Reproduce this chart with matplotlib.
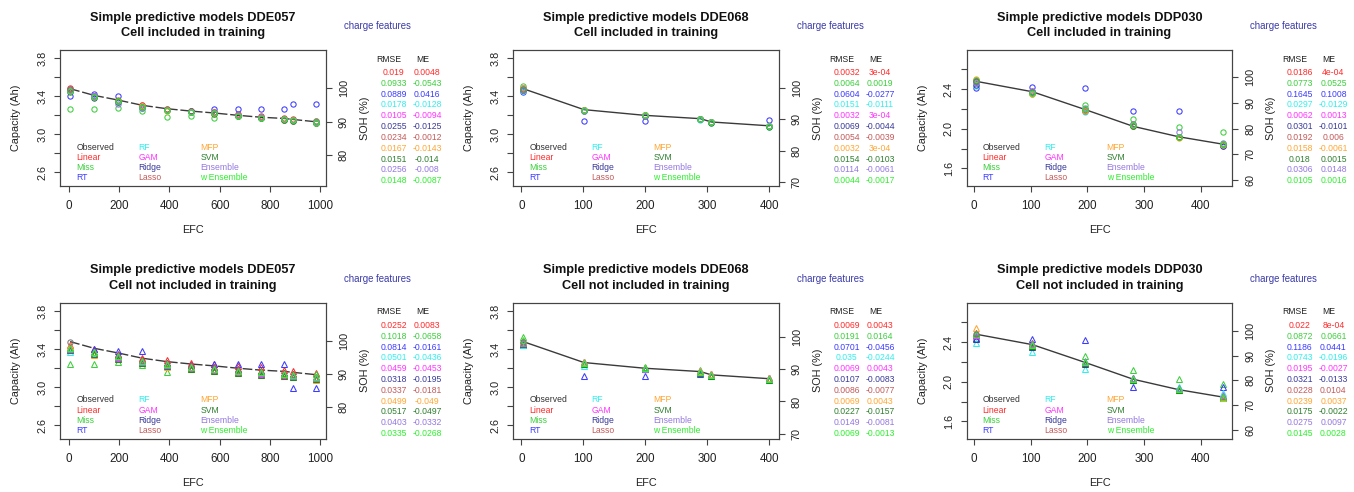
import matplotlib.pyplot as plt
import numpy as np

plt.rcParams['font.family'] = ['Liberation Sans', 'DejaVu Sans']

W, H = 1354, 492

models = ["Linear", "Miss", "RT", "RF", "GAM", "Ridge", "Lasso",
          "MFP", "SVM", "Ensemble", "w Ensemble"]
colors = ["#ff2a2a", "#3ccf3c", "#3b3bff", "#33eeee", "#ff33ff", "#3a3a9a",
          "#c45a5a", "#ffa634", "#2f7f2f", "#9478e0", "#2ef02e"]
obs_color = "#333333"

# DDE057
efc_dde057 = [5, 100, 197, 293, 389, 484, 577, 673, 764, 857, 891, 984]
cap_dde057 = [3.48, 3.41, 3.36, 3.305, 3.27, 3.245, 3.225, 3.20, 3.18, 3.167, 3.157, 3.132]
pred_dde057_in = [
    [3.49, 3.40, 3.35, 3.31, 3.27, 3.25, 3.23, 3.21, 3.19, 3.17, 3.16, 3.14],
    [3.27, 3.27, 3.28, 3.25, 3.18, 3.19, 3.17, 3.19, 3.17, 3.15, 3.15, 3.14],
    [3.40, 3.42, 3.40, 3.28, 3.26, 3.25, 3.27, 3.27, 3.27, 3.27, 3.32, 3.32],
    [3.46, 3.39, 3.34, 3.29, 3.26, 3.24, 3.22, 3.19, 3.17, 3.15, 3.14, 3.12],
    [3.47, 3.40, 3.35, 3.29, 3.26, 3.24, 3.22, 3.19, 3.17, 3.16, 3.15, 3.12],
    [3.46, 3.38, 3.34, 3.29, 3.26, 3.25, 3.22, 3.19, 3.17, 3.15, 3.14, 3.12],
    [3.48, 3.40, 3.36, 3.31, 3.27, 3.25, 3.23, 3.20, 3.18, 3.16, 3.15, 3.13],
    [3.46, 3.39, 3.35, 3.30, 3.25, 3.23, 3.21, 3.19, 3.17, 3.15, 3.14, 3.12],
    [3.45, 3.39, 3.35, 3.29, 3.26, 3.24, 3.21, 3.19, 3.17, 3.15, 3.14, 3.12],
    [3.46, 3.40, 3.32, 3.28, 3.26, 3.24, 3.22, 3.20, 3.18, 3.16, 3.15, 3.13],
    [3.46, 3.39, 3.35, 3.29, 3.26, 3.24, 3.22, 3.19, 3.17, 3.16, 3.15, 3.12],
]
pred_dde057_out = [
    [3.44, 3.40, 3.35, 3.31, 3.29, 3.26, 3.24, 3.22, 3.21, 3.18, 3.17, 3.15],
    [3.245, 3.245, 3.265, 3.23, 3.16, 3.19, 3.185, 3.18, 3.17, 3.15, 3.14, 3.14],
    [3.40, 3.40, 3.385, 3.385, 3.25, 3.23, 3.24, 3.245, 3.245, 3.245, 2.995, 2.995],
    [3.37, 3.36, 3.31, 3.26, 3.22, 3.21, 3.19, 3.16, 3.15, 3.12, 3.11, 3.09],
    [3.39, 3.35, 3.31, 3.26, 3.22, 3.20, 3.18, 3.16, 3.14, 3.13, 3.12, 3.09],
    [3.40, 3.37, 3.34, 3.29, 3.25, 3.23, 3.21, 3.19, 3.17, 3.15, 3.14, 3.11],
    [3.41, 3.37, 3.34, 3.29, 3.26, 3.23, 3.21, 3.19, 3.17, 3.15, 3.14, 3.11],
    [3.43, 3.34, 3.30, 3.25, 3.21, 3.19, 3.17, 3.15, 3.13, 3.12, 3.11, 3.08],
    [3.39, 3.35, 3.30, 3.25, 3.22, 3.19, 3.17, 3.15, 3.13, 3.12, 3.11, 3.09],
    [3.40, 3.37, 3.32, 3.27, 3.23, 3.21, 3.19, 3.17, 3.15, 3.14, 3.12, 3.10],
    [3.41, 3.37, 3.33, 3.28, 3.24, 3.21, 3.19, 3.17, 3.16, 3.14, 3.13, 3.11],
]

# DDE068
efc_dde068 = [3, 101, 199, 289, 307, 400]
cap_dde068 = [3.48, 3.26, 3.20, 3.165, 3.13, 3.09]
pred_dde068_in = [
    [3.49, 3.26, 3.20, 3.165, 3.125, 3.09],
    [3.51, 3.26, 3.20, 3.16, 3.125, 3.09],
    [3.45, 3.145, 3.14, 3.16, 3.13, 3.15],
    [3.46, 3.25, 3.19, 3.155, 3.12, 3.08],
    [3.49, 3.26, 3.20, 3.165, 3.125, 3.09],
    [3.47, 3.255, 3.20, 3.16, 3.125, 3.085],
    [3.47, 3.26, 3.195, 3.16, 3.125, 3.085],
    [3.49, 3.26, 3.20, 3.165, 3.125, 3.09],
    [3.47, 3.25, 3.19, 3.16, 3.115, 3.08],
    [3.47, 3.25, 3.19, 3.16, 3.125, 3.09],
    [3.48, 3.26, 3.20, 3.165, 3.125, 3.085],
]
pred_dde068_out = [
    [3.49, 3.265, 3.205, 3.17, 3.135, 3.095],
    [3.53, 3.27, 3.21, 3.18, 3.14, 3.10],
    [3.44, 3.12, 3.12, 3.14, 3.12, 3.10],
    [3.44, 3.22, 3.19, 3.15, 3.12, 3.08],
    [3.49, 3.265, 3.205, 3.17, 3.135, 3.095],
    [3.46, 3.255, 3.20, 3.16, 3.125, 3.085],
    [3.465, 3.255, 3.195, 3.16, 3.125, 3.085],
    [3.49, 3.265, 3.205, 3.17, 3.135, 3.095],
    [3.46, 3.24, 3.19, 3.15, 3.115, 3.08],
    [3.47, 3.25, 3.19, 3.16, 3.13, 3.09],
    [3.50, 3.26, 3.20, 3.16, 3.125, 3.085],
]

# DDP030
efc_ddp030 = [4, 103, 196, 281, 361, 439]
cap_ddp030 = [2.48, 2.375, 2.195, 2.025, 1.92, 1.845]
pred_ddp030_in = [
    [2.48, 2.37, 2.19, 2.04, 1.92, 1.84],
    [2.47, 2.35, 2.24, 2.10, 2.015, 1.965],
    [2.41, 2.42, 2.41, 2.18, 2.18, 1.83],
    [2.43, 2.36, 2.17, 2.03, 1.92, 1.84],
    [2.48, 2.37, 2.20, 2.03, 1.92, 1.85],
    [2.44, 2.36, 2.18, 2.03, 1.92, 1.83],
    [2.49, 2.38, 2.19, 2.05, 1.92, 1.85],
    [2.50, 2.35, 2.18, 2.03, 1.91, 1.84],
    [2.48, 2.37, 2.20, 2.03, 1.92, 1.85],
    [2.46, 2.38, 2.21, 2.05, 1.97, 1.86],
    [2.49, 2.36, 2.20, 2.04, 1.92, 1.85],
]
pred_ddp030_out = [
    [2.47, 2.37, 2.19, 2.03, 1.93, 1.85],
    [2.49, 2.39, 2.26, 2.115, 2.03, 1.98],
    [2.44, 2.43, 2.42, 1.95, 1.94, 1.95],
    [2.39, 2.30, 2.13, 2.04, 1.95, 1.89],
    [2.46, 2.36, 2.19, 2.02, 1.92, 1.85],
    [2.43, 2.35, 2.18, 2.02, 1.92, 1.84],
    [2.49, 2.39, 2.20, 2.04, 1.93, 1.86],
    [2.54, 2.36, 2.19, 2.02, 1.92, 1.84],
    [2.47, 2.36, 2.19, 2.02, 1.92, 1.85],
    [2.47, 2.38, 2.21, 2.04, 1.94, 1.87],
    [2.48, 2.37, 2.20, 2.03, 1.93, 1.85],
]

# error tables (RMSE, ME) per model
rmse_dde057_in = ["0.019", "0.0933", "0.0889", "0.0178", "0.0105", "0.0255", "0.0234", "0.0167", "0.0151", "0.0256", "0.0148"]
me_dde057_in = ["0.0048", "-0.0543", "0.0416", "-0.0128", "-0.0094", "-0.0125", "-0.0012", "-0.0143", "-0.014", "-0.008", "-0.0087"]
rmse_dde068_in = ["0.0032", "0.0064", "0.0604", "0.0151", "0.0032", "0.0069", "0.0054", "0.0032", "0.0154", "0.0114", "0.0044"]
me_dde068_in = ["3e-04", "0.0019", "-0.0277", "-0.0111", "3e-04", "-0.0044", "-0.0039", "3e-04", "-0.0103", "-0.0061", "-0.0017"]
rmse_ddp030_in = ["0.0186", "0.0773", "0.1645", "0.0297", "0.0062", "0.0301", "0.0192", "0.0158", "0.018", "0.0306", "0.0105"]
me_ddp030_in = ["4e-04", "0.0525", "0.1008", "-0.0129", "0.0013", "-0.0101", "0.006", "-0.0061", "0.0015", "0.0148", "0.0016"]
rmse_dde057_out = ["0.0252", "0.1018", "0.0814", "0.0501", "0.0459", "0.0318", "0.0337", "0.0499", "0.0517", "0.0403", "0.0335"]
me_dde057_out = ["0.0083", "-0.0658", "-0.0161", "-0.0436", "-0.0453", "-0.0195", "-0.0181", "-0.049", "-0.0497", "-0.0332", "-0.0268"]
rmse_dde068_out = ["0.0069", "0.0191", "0.0701", "0.035", "0.0069", "0.0107", "0.0086", "0.0069", "0.0227", "0.0149", "0.0069"]
me_dde068_out = ["0.0043", "0.0164", "-0.0456", "-0.0244", "0.0043", "-0.0083", "-0.0077", "0.0043", "-0.0157", "-0.0081", "-0.0013"]
rmse_ddp030_out = ["0.022", "0.0872", "0.1186", "0.0743", "0.0195", "0.0321", "0.0228", "0.0239", "0.0175", "0.0275", "0.0145"]
me_ddp030_out = ["8e-04", "0.0661", "0.0441", "-0.0196", "-0.0027", "-0.0133", "0.0104", "0.0037", "-0.0022", "0.0097", "0.0028"]

cells = ["DDE057", "DDE068", "DDP030"]
subtitles = ["Cell included in training", "Cell not included in training"]

panels = [
    (efc_dde057, cap_dde057, pred_dde057_in, rmse_dde057_in, me_dde057_in),
    (efc_dde068, cap_dde068, pred_dde068_in, rmse_dde068_in, me_dde068_in),
    (efc_ddp030, cap_ddp030, pred_ddp030_in, rmse_ddp030_in, me_ddp030_in),
    (efc_dde057, cap_dde057, pred_dde057_out, rmse_dde057_out, me_dde057_out),
    (efc_dde068, cap_dde068, pred_dde068_out, rmse_dde068_out, me_dde068_out),
    (efc_ddp030, cap_ddp030, pred_ddp030_out, rmse_ddp030_out, me_ddp030_out),
]

# axis settings per cell
xlims = [(-34, 1023), (-13, 416), (-13, 456)]
xticks = [np.arange(0, 1001, 200), np.arange(0, 401, 100), np.arange(0, 401, 100)]
ylims = [(2.459, 3.887), (2.459, 3.887), (1.424, 2.797)]
yticks = [np.arange(2.6, 3.81, 0.2), np.arange(2.6, 3.81, 0.2), np.arange(1.6, 2.61, 0.2)]
ylabels_shown = [["2.6", "", "3.0", "", "3.4", "", "3.8"],
                 ["2.6", "", "3.0", "", "3.4", "", "3.8"],
                 ["1.6", "", "2.0", "", "2.4", ""]]
soh_lims = [(70.7, 111.5), (68.7, 112.3), (57.8, 110.6),
            (70.2, 111.6), (68.4, 110.7), (56.4, 111.3)]
soh_ticks = [[80, 90, 100], [70, 80, 90, 100], [60, 70, 80, 90, 100]]

box_left = [60.3, 513.3, 966.7]
box_top = [50.0, 302.9]
box_w, box_h = 265.7, 135.8

fig = plt.figure(figsize=(W / 100, H / 100), dpi=100)
fs_base = 7.8
fs_tick = 8.4
fs_small = 6.2
spine_c = "#444444"
text_c = "#222222"


def ftext(x, y, s, **kw):
    fig.text(x / W, 1 - y / H, s, **kw)


for idx, (efc, cap, preds, rmse, me) in enumerate(panels):
    row, col = divmod(idx, 3)
    l, t = box_left[col], box_top[row]
    r, b = l + box_w, t + box_h
    ax = fig.add_axes([l / W, 1 - b / H, box_w / W, box_h / H])
    ax2 = ax.twinx()

    mk = 'o' if row == 0 else '^'
    ls = (0, (7, 2)) if col == 0 else '-'
    ax.plot(efc, cap, color="#3a3a3a", lw=1.0, ls=ls, zorder=2)
    for name, c, vals in zip(models, colors, preds):
        ax.plot(efc, vals, ls='none', marker=mk, ms=3.8, mfc='none',
                mec=c, mew=0.75, zorder=3)
    ax.plot(efc[:1], cap[:1], ls='none', marker='o', ms=3.8, mfc='none',
            mec="#777777", mew=0.75, zorder=3)

    ax.set_xlim(*xlims[col])
    ax.set_ylim(*ylims[col])
    ax.set_xticks(xticks[col])
    ax.set_yticks(yticks[col])
    ax.set_yticklabels(ylabels_shown[col])
    ax2.set_ylim(*soh_lims[idx])
    ax2.set_yticks(soh_ticks[col])

    for a in (ax, ax2):
        for sp in a.spines.values():
            sp.set_color(spine_c)
            sp.set_linewidth(0.8)
    ax.tick_params(axis='x', direction='out', length=4.3, width=0.8,
                   color=spine_c, labelsize=fs_tick, labelcolor=text_c, pad=6)
    ax.tick_params(axis='y', direction='out', length=4.3, width=0.8,
                   color=spine_c, labelsize=fs_base, labelcolor=text_c,
                   pad=5, labelrotation=90)
    ax2.tick_params(axis='y', direction='out', length=4.3, width=0.8,
                    color=spine_c, labelsize=fs_base, labelcolor=text_c,
                    pad=5, labelrotation=90)
    for lab in ax.get_yticklabels() + ax2.get_yticklabels():
        lab.set_va('center')

    # titles and axis labels
    cx = (l + r) / 2
    ftext(cx, t - 32.5, "Simple predictive models " + cells[col], ha='center',
          va='center', fontsize=9.2, fontweight='bold', color='#111111')
    ftext(cx, t - 16.7, subtitles[row], ha='center', va='center',
          fontsize=9.2, fontweight='bold', color='#111111')
    ftext(cx, b + 44.3, "EFC", ha='center', va='center', fontsize=fs_base, color=text_c)
    ftext(l - 44, (t + b) / 2, "Capacity (Ah)", ha='center', va='center',
          rotation=90, fontsize=fs_base, color=text_c)
    ftext(r + 39, (t + b) / 2, "SOH (%)", ha='center', va='center',
          rotation=90, fontsize=fs_base, color=text_c)
    ftext(r + 51, t - 24, "charge features", ha='center', va='center',
          fontsize=6.9, color="#3a3aa8")

    # legend text inside the plot
    names = ["Observed"] + models
    cols = [obs_color] + colors
    for k, (nm, c) in enumerate(zip(names, cols)):
        cj, rj = divmod(k, 4)
        ftext(l + 16 + cj * 62, t + 97 + rj * 10.2, nm, ha='left', va='center',
              fontsize=fs_small, color=c)

    # error table
    ftext(r + 62.3, t + 9, "RMSE", ha='center', va='center', fontsize=fs_small, color=text_c)
    ftext(r + 96.6, t + 9, "ME", ha='center', va='center', fontsize=fs_small, color=text_c)
    for k, c in enumerate(colors):
        y = t + 22.5 + k * 10.82
        ftext(r + 67.5, y, rmse[k], ha='center', va='center', fontsize=fs_small, color=c)
        ftext(r + 101, y, me[k], ha='center', va='center', fontsize=fs_small, color=c)

fig.savefig("out.png", dpi=100)
